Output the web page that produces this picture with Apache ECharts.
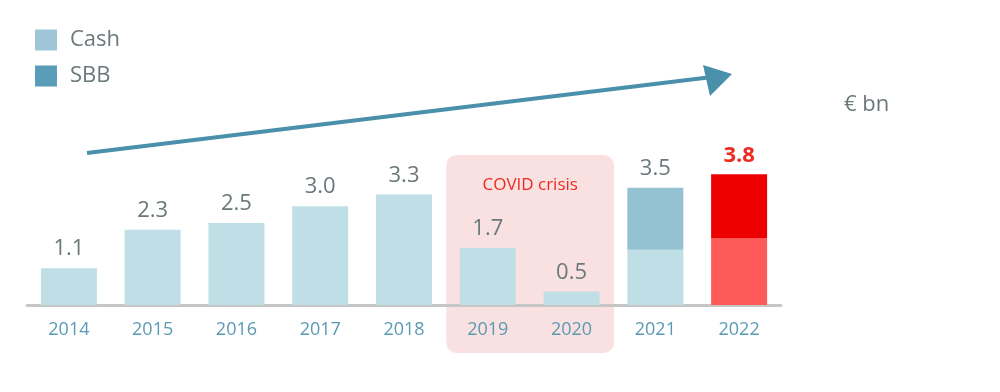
<!DOCTYPE html>
<html><head><meta charset="utf-8">
<script src="https://cdn.jsdelivr.net/npm/echarts@6/dist/echarts.min.js"></script>
<style>html,body{margin:0;padding:0;background:#fff}#c{width:1000px;height:392px}</style>
</head><body><div id="c"></div>
<script>
const years = ['2014','2015','2016','2017','2018','2019','2020','2021','2022'];
const cash = [1.1, 2.25, 2.45, 2.95, 3.3, 1.7, 0.4, 1.65, 2.0];
const sbb = [0, 0, 0, 0, 0, 0, 0, 1.85, 1.9];
const totalLabels = ['1.1','2.3','2.5','3.0','3.3','1.7','0.5','3.5','3.8'];
const covidYears = ['2019','2020'];

const grey = '#6b787b';
const chart = echarts.init(document.getElementById('c'));
const last = years.length - 1;
const font = 'Open Sans';

const cashData = cash.map((v, i) => {
  const hasSbb = sbb[i] > 0;
  return {
    value: v,
    itemStyle: { color: i === last ? '#ff5a5a' : '#c0dee5' },
    label: hasSbb ? { show: false } : { show: true, formatter: totalLabels[i] }
  };
});
const sbbData = sbb.map((v, i) => v > 0 ? {
  value: v,
  itemStyle: { color: i === last ? '#ec0000' : '#95c2d2' },
  label: { show: true, formatter: totalLabels[i],
    color: i === last ? '#ec2a20' : grey, fontWeight: i === last ? 'bold' : 'normal' }
} : '-');

chart.setOption({
  animation: false,
  textStyle: { fontFamily: font },
  grid: { left: 27, right: 219, top: 137.5, bottom: 87 },
  legend: {
    orient: 'vertical', left: 30, top: 24, itemWidth: 22, itemHeight: 21, itemGap: 14,
    icon: 'rect', textStyle: { color: grey, fontSize: 22, fontFamily: font, padding: [0,0,0,8] },
    data: ['Cash', 'SBB']
  },
  xAxis: {
    type: 'category', data: years,
    axisLine: { lineStyle: { color: '#c6c6c6', width: 3 } },
    axisTick: { show: false },
    axisLabel: { color: '#5a9ab3', fontSize: 18, margin: 16, fontFamily: font }
  },
  yAxis: { type: 'value', min: 0, max: 5, show: false, splitLine: { show: false } },
  series: [
    { name: 'Cash', type: 'bar', stack: 't', barWidth: 56, data: cashData,
      itemStyle: { color: '#9ec6d6' }, z: 3,
      label: { position: 'top', distance: 8, color: grey, fontSize: 22, fontFamily: font } },
    { name: 'SBB', type: 'bar', stack: 't', barWidth: 56, data: sbbData,
      itemStyle: { color: '#5a9db8' }, z: 3,
      label: { position: 'top', distance: 8, color: grey, fontSize: 22, fontFamily: font } }
  ]
});

// COVID area computed from axis positions
const x0 = chart.convertToPixel({ xAxisIndex: 0 }, covidYears[0]);
const x1 = chart.convertToPixel({ xAxisIndex: 0 }, covidYears[1]);
const band = (x1 - x0);
const rl = x0 - band / 2 + 0.5, rr = x1 + band / 2 + 0.5;
chart.setOption({
  graphic: [
    { type: 'rect', shape: { x: rl, y: 155, width: rr - rl, height: 198, r: 10 },
      style: { fill: '#f9e1e1' }, z: -10, silent: true },
    { type: 'text', x: (rl + rr) / 2, y: 185,
      style: { text: 'COVID crisis', fill: '#ec2a20', font: '17px "Open Sans"', align: 'center', verticalAlign: 'middle' }, z: 10 },
    { type: 'line', shape: { x1: 87, y1: 153, x2: 712, y2: 77 },
      style: { stroke: '#4a90ab', lineWidth: 4 }, z: 10 },
    { type: 'polygon', shape: { points: [[732, 74], [703, 65], [710, 96]] },
      style: { fill: '#4a90ab' }, z: 10 },
    { type: 'text', x: 844, y: 105,
      style: { text: '€ bn', fill: grey, font: '22px "Open Sans"', verticalAlign: 'middle' }, z: 10 }
  ]
});
</script></body></html>
